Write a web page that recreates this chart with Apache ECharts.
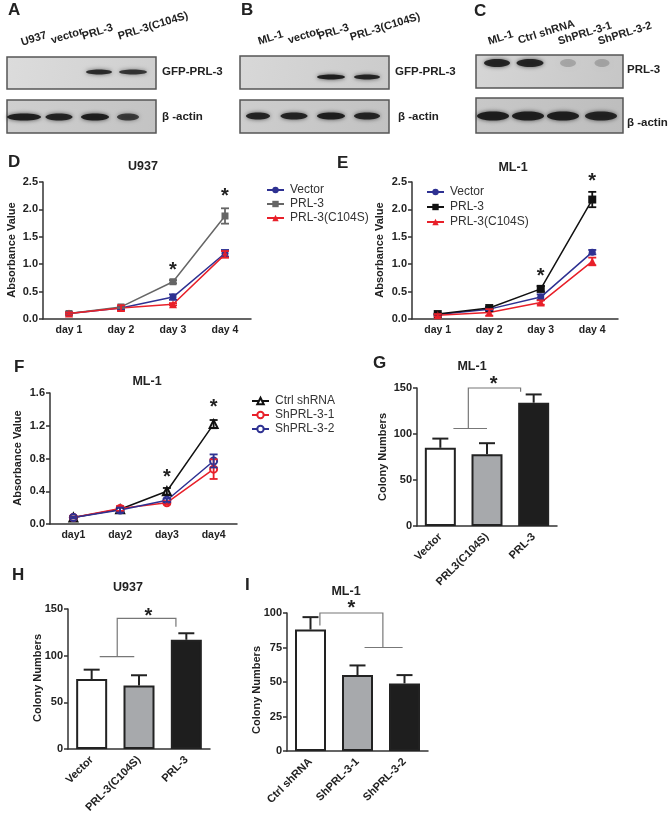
<!DOCTYPE html>
<html><head><meta charset="utf-8">
<script src="https://cdn.jsdelivr.net/npm/echarts@6/dist/echarts.min.js"></script>
<style>html,body{margin:0;padding:0;background:#fff}#c{width:669px;height:818px}</style>
</head><body><div id="c"></div>
<script>
// ---------------- data ----------------
const daysDE = ['day 1','day 2','day 3','day 4'];
const daysF = ['day1','day2','day3','day4'];

const dVector = [0.10,0.20,0.40,1.20], dVectorErr = [0.02,0.03,0.05,0.06];
const dPRL3   = [0.10,0.22,0.68,1.88], dPRL3Err   = [0.02,0.02,0.03,0.14];
const dC104S  = [0.10,0.20,0.27,1.18], dC104SErr  = [0.02,0.05,0.02,0.06];

const eVector = [0.08,0.18,0.40,1.22], eVectorErr = [0.01,0.02,0.05,0.04];
const ePRL3   = [0.09,0.20,0.55,2.18], ePRL3Err   = [0.01,0.02,0.05,0.14];
const eC104S  = [0.07,0.12,0.30,1.05], eC104SErr  = [0.02,0.06,0.04,0.07];

const fCtrl = [0.08,0.18,0.40,1.22], fCtrlErr = [0.01,0.02,0.04,0.05];
const fSh1  = [0.08,0.19,0.26,0.67], fSh1Err  = [0.01,0.03,0.02,0.12];
const fSh2  = [0.08,0.17,0.29,0.77], fSh2Err  = [0.01,0.03,0.02,0.08];

const gCats = ['Vector','PRL3(C104S)','PRL-3'], gVals = [85,78,134], gErr = [10,12,9];
const hCats = ['Vector','PRL-3(C104S)','PRL-3'], hVals = [75,68,117], hErr = [10,11,7];
const iCats = ['Ctrl shRNA','ShPRL-3-1','ShPRL-3-2'], iVals = [88,55,49], iErr = [9,7,6];

// blot band intensities (0..1)
const blotALanes = ['U937','vector','PRL-3','PRL-3(C104S)'];
const blotAGfp = [0,0,0.85,0.8], blotAActin = [0.95,0.9,0.95,0.75];
const blotBLanes = ['ML-1','vector','PRL-3','PRL-3(C104S)'];
const blotBGfp = [0,0,0.95,0.9], blotBActin = [0.9,0.9,0.95,0.9];
const blotCLanes = ['ML-1','Ctrl shRNA','ShPRL-3-1','ShPRL-3-2'];
const blotCPrl = [0.9,0.9,0.2,0.2], blotCActin = [0.95,0.95,0.95,0.9];

// ---------------- helpers ----------------
const FONT = '"Liberation Sans", Arial, Helvetica, sans-serif';
const AX = '#333';
const BLUE = '#2e3192', RED = '#e8202a', GRAY = '#666666', BLACK = '#111111';

function xCat(gi, data, fs, rotate){
  return {type:'category', gridIndex:gi, data:data, boundaryGap:true,
    axisLine:{lineStyle:{color:AX,width:1.5}},
    axisTick:{alignWithLabel:true,length:5,lineStyle:{color:AX,width:1.5}},
    axisLabel:{fontFamily:FONT,fontWeight:'bold',fontSize:fs,color:'#222',margin:rotate?9:6,rotate:rotate||0,interval:0}};
}
function yVal(gi, max, interval, dec){
  return {type:'value', gridIndex:gi, min:0, max:max, interval:interval,
    splitLine:{show:false},
    axisLine:{show:true,lineStyle:{color:AX,width:1.5}},
    axisTick:{show:true,length:4,lineStyle:{color:AX,width:1.5}},
    axisLabel:{fontFamily:FONT,fontWeight:'bold',fontSize:11,color:'#222',margin:5,
      formatter:v=>v.toFixed(dec)}};
}
function lineS(name, gi, vals, color, symbol, size, hollow){
  return {type:'line', name:name, xAxisIndex:gi, yAxisIndex:gi, data:vals,
    symbol:symbol, symbolSize:size, showSymbol:true, z:3,
    lineStyle:{color:color,width:1.5},
    itemStyle:hollow?{color:color, borderColor:color, borderWidth:2}:{color:color},
    emphasis:{disabled:true}};
}
function errS(gi, vals, errs, color, cap, upperOnly, lw){
  return {type:'custom', xAxisIndex:gi, yAxisIndex:gi, silent:true, z:upperOnly?4:5, clip:false,
    encode:{x:0,y:[1,2]},
    data: vals.map((v,i)=>[i, upperOnly? v : v-errs[i], v+errs[i]]),
    renderItem:function(p, api){
      const lo = api.coord([api.value(0), api.value(1)]);
      const hi = api.coord([api.value(0), api.value(2)]);
      const x = lo[0], st = {stroke:color, lineWidth:lw};
      const ch = [
        {type:'line', shape:{x1:x,y1:lo[1],x2:x,y2:hi[1]}, style:st},
        {type:'line', shape:{x1:x-cap/2,y1:hi[1],x2:x+cap/2,y2:hi[1]}, style:st}];
      if(!upperOnly) ch.push({type:'line', shape:{x1:x-cap/2,y1:lo[1],x2:x+cap/2,y2:lo[1]}, style:st});
      return {type:'group', children:ch};
    }};
}
// annotations: stars at [catPos, value]; brackets as polylines of [catPos, value]
function annotS(gi, stars, polys){
  return {type:'custom', xAxisIndex:gi, yAxisIndex:gi, silent:true, z:6, clip:false,
    data:[[0,0]], encode:{x:0,y:1},
    renderItem:function(p, api){
      function pt(c, v){
        const i0 = Math.floor(c), fr = c - i0;
        const a = api.coord([i0, v]), b = api.coord([i0+1, v]);
        return [a[0] + fr*(b[0]-a[0]), a[1]];
      }
      const ch = [];
      polys.forEach(poly=>{
        ch.push({type:'polyline', shape:{points:poly.map(q=>pt(q[0],q[1]))},
          style:{stroke:'#777',lineWidth:1.2,fill:null}});
      });
      stars.forEach(s=>{
        const q = pt(s[0], s[1]);
        ch.push({type:'text', style:{text:'*', x:q[0], y:q[1]+4, align:'center', verticalAlign:'middle',
          font:'bold 20px '+FONT, fill:'#222'}});
      });
      return {type:'group', children:ch};
    }};
}
function txt(t, x, y, fs, opts){
  opts = opts||{};
  return {type:'text', x:x, y:y, rotation:opts.rot||0, z:10,
    style:{text:t, font:(opts.bold===false?'':'bold ')+fs+'px '+FONT, fill:opts.color||'#222',
      align:opts.align||'left', verticalAlign:opts.va||'middle'}};
}
function blot(x, y, w, h, c1, c2, centers, widths, bandY, bandH, ints){
  const ch = [{type:'rect', shape:{x:x,y:y,width:w,height:h},
    style:{fill:new echarts.graphic.LinearGradient(0,0,1,1,[{offset:0,color:c1},{offset:1,color:c2}]),
      stroke:'#555', lineWidth:1.5}}];
  centers.forEach((c,i)=>{
    const a = ints[i]; if(a<=0) return;
    ch.push({type:'ellipse', shape:{cx:c, cy:bandY, rx:widths[i]/2, ry:bandH/2},
      style:{fill:'rgba(25,25,25,'+a+')', shadowBlur:4, shadowColor:'rgba(0,0,0,'+(a*0.7)+')'}});
  });
  return {type:'group', children:ch};
}

// ---------------- layout ----------------
const grids = [
  {left:43, top:182, width:208, height:137},   // D
  {left:412, top:182, width:206, height:137},  // E
  {left:50, top:393, width:187, height:131},   // F
  {left:417, top:388, width:140, height:138},  // G
  {left:68, top:609, width:142, height:140},   // H
  {left:287, top:613, width:141, height:138}   // I
];
const xAxes = [xCat(0,daysDE,10.5), xCat(1,daysDE,10.5), xCat(2,daysF,10.5),
  xCat(3,gCats,11,45), xCat(4,hCats,11,45), xCat(5,iCats,11,45)];
const yAxes = [yVal(0,2.5,0.5,1), yVal(1,2.5,0.5,1), yVal(2,1.6,0.4,1),
  yVal(3,150,50,0), yVal(4,150,50,0), yVal(5,100,25,0)];

const barColors = ['#ffffff','#a7a9ac','#1e1e1e'];
function barS(gi, cats, vals){
  return {type:'bar', xAxisIndex:gi, yAxisIndex:gi, barWidth:31, z:2,
    data: vals.map((v,i)=>({value:v, itemStyle:{color:barColors[i]}})),
    itemStyle:{borderColor:'#222', borderWidth:2}, emphasis:{disabled:true}};
}

const series = [
  lineS('D|Vector',0,dVector,BLUE,'circle',7), lineS('D|PRL-3',0,dPRL3,GRAY,'rect',7),
  lineS('D|PRL-3(C104S)',0,dC104S,RED,'triangle',8),
  errS(0,dVector,dVectorErr,BLUE,8,false,1.8), errS(0,dPRL3,dPRL3Err,GRAY,8,false,1.8),
  errS(0,dC104S,dC104SErr,RED,8,false,1.8),
  annotS(0,[[2,0.95],[3,2.3]],[]),

  lineS('E|Vector',1,eVector,BLUE,'circle',7), lineS('E|PRL-3',1,ePRL3,BLACK,'rect',8),
  lineS('E|PRL-3(C104S)',1,eC104S,RED,'triangle',8),
  errS(1,eVector,eVectorErr,BLUE,8,false,1.8), errS(1,ePRL3,ePRL3Err,BLACK,8,false,1.8),
  errS(1,eC104S,eC104SErr,RED,8,false,1.8),
  annotS(1,[[2,0.84],[3,2.59]],[]),

  lineS('F|Ctrl shRNA',2,fCtrl,BLACK,'emptyTriangle',8,true),
  lineS('F|ShPRL-3-1',2,fSh1,RED,'emptyCircle',7,true),
  lineS('F|ShPRL-3-2',2,fSh2,BLUE,'emptyCircle',7,true),
  errS(2,fCtrl,fCtrlErr,BLACK,8,false,1.8), errS(2,fSh1,fSh1Err,RED,8,false,1.8),
  errS(2,fSh2,fSh2Err,BLUE,8,false,1.8),
  annotS(2,[[2,0.62],[3,1.47]],[]),

  barS(3,gCats,gVals), errS(3,gVals,gErr,'#222',16,true,2),
  annotS(3,[[1.14,158]],[[[0.28,106],[1.0,106]],[[0.6,106],[0.6,150],[1.72,150],[1.72,146]]]),

  barS(4,hCats,hVals), errS(4,hVals,hErr,'#222',16,true,2),
  annotS(4,[[1.2,146]],[[[0.17,99],[0.9,99]],[[0.54,99],[0.54,140],[1.78,140],[1.78,131]]]),

  barS(5,iCats,iVals), errS(5,iVals,iErr,'#222',16,true,2),
  annotS(5,[[0.87,106]],[[[0.2,91],[0.2,100],[1.54,100],[1.54,75]],[[1.15,75],[1.96,75]]])
];

function legendC(left, top, names, gap){
  return {left:left, top:top, orient:'vertical', padding:0, itemGap:gap, itemWidth:17, itemHeight:8,
    selectedMode:false, data:names, formatter:n=>n.split('|')[1],
    textStyle:{fontFamily:FONT,fontSize:12,color:'#333',padding:[0,0,0,1]}};
}
const legends = [
  legendC(266,184,['D|Vector','D|PRL-3','D|PRL-3(C104S)'],2),
  legendC(426,186,['E|Vector','E|PRL-3','E|PRL-3(C104S)'],3),
  legendC(251,395,['F|Ctrl shRNA','F|ShPRL-3-1','F|ShPRL-3-2'],2)
];

const R = -0.3;
const graphics = [
  // panel letters
  txt('A',8,10,17), txt('B',241,10,17), txt('C',474,11,17),
  txt('D',8,162,17), txt('E',337,163,17), txt('F',14,367,17),
  txt('G',373,363,17), txt('H',12,575,17), txt('I',245,585,17),
  // titles
  txt('U937',143,167,12.5,{align:'center'}), txt('ML-1',513,168,12.5,{align:'center'}),
  txt('ML-1',147,382,12.5,{align:'center'}), txt('ML-1',472,367,12.5,{align:'center'}),
  txt('U937',128,588,12.5,{align:'center'}), txt('ML-1',346,592,12.5,{align:'center'}),
  // y-axis titles
  txt('Absorbance Value',12,250,11,{rot:Math.PI/2,align:'center'}),
  txt('Absorbance Value',380,250,11,{rot:Math.PI/2,align:'center'}),
  txt('Absorbance Value',18,458,11,{rot:Math.PI/2,align:'center'}),
  txt('Colony Numbers',383,457,11,{rot:Math.PI/2,align:'center'}),
  txt('Colony Numbers',38,678,11,{rot:Math.PI/2,align:'center'}),
  txt('Colony Numbers',257,690,11,{rot:Math.PI/2,align:'center'}),
  // blots
  blot(7,57,149,32,'#dcdcdc','#cfcfcf',[22,59,99,133],[30,26,26,28],72,5,blotAGfp),
  blot(7,100,149,33,'#cfcfcf','#c3c3c3',[24,59,95,128],[34,27,28,22],117,7,blotAActin),
  blot(240,56,149,33,'#d8d8d8','#cbcbcb',[258,294,331,367],[26,26,28,26],77,5,blotBGfp),
  blot(240,100,149,33,'#cecece','#c2c2c2',[258,294,331,367],[24,27,28,26],116,7,blotBActin),
  blot(476,55,147,33,'#d6d6d6','#c6c6c6',[497,530,568,602],[26,27,16,15],63,8,blotCPrl),
  blot(476,98,147,35,'#c8c8c8','#bdbdbd',[493,528,563,601],[32,32,32,32],116,9,blotCActin),
  txt('GFP-PRL-3',162,72,11.5), txt('\u03b2 -actin',162,117,11.5),
  txt('GFP-PRL-3',395,72,11.5), txt('\u03b2 -actin',398,117,11.5),
  txt('PRL-3',627,70,11.5), txt('\u03b2 -actin',627,123,11.5),
  // blot lane labels
  txt(blotALanes[0],23,48,11,{rot:-R,va:'bottom'}), txt(blotALanes[1],53,46,11,{rot:-R,va:'bottom'}),
  txt(blotALanes[2],84,42,11,{rot:-R,va:'bottom'}), txt(blotALanes[3],120,42,11,{rot:-R,va:'bottom'}),
  txt(blotBLanes[0],260,47,11,{rot:-R,va:'bottom'}), txt(blotBLanes[1],290,46,11,{rot:-R,va:'bottom'}),
  txt(blotBLanes[2],320,42,11,{rot:-R,va:'bottom'}), txt(blotBLanes[3],352,43,11,{rot:-R,va:'bottom'}),
  txt(blotCLanes[0],490,47,11,{rot:-R,va:'bottom'}), txt(blotCLanes[1],520,46,11,{rot:-R,va:'bottom'}),
  txt(blotCLanes[2],560,47,11,{rot:-R,va:'bottom'}), txt(blotCLanes[3],600,47,11,{rot:-R,va:'bottom'})
];

const chart = echarts.init(document.getElementById('c'), null, {renderer:'canvas'});
chart.setOption({
  backgroundColor:'#ffffff', animation:false,
  textStyle:{fontFamily:FONT},
  grid:grids, xAxis:xAxes, yAxis:yAxes, legend:legends, series:series,
  graphic:{elements:graphics}
});
</script></body></html>
